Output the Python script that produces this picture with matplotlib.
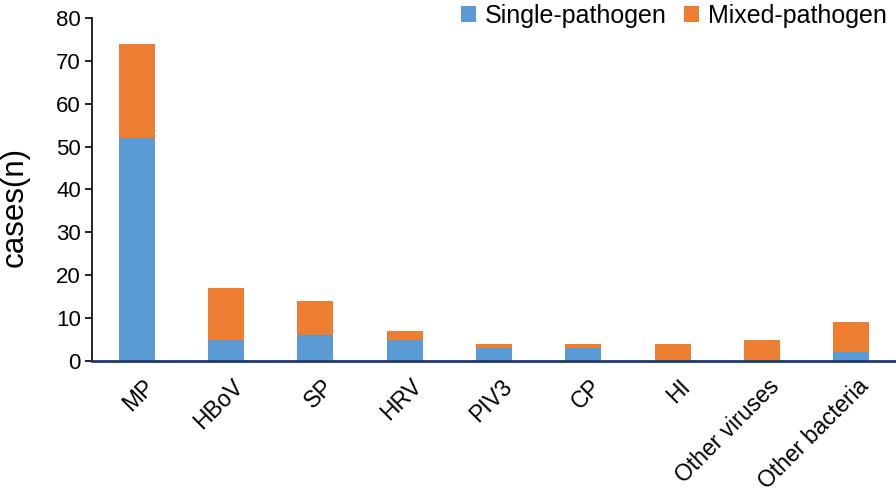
import matplotlib
matplotlib.use("Agg")
import matplotlib.pyplot as plt
import matplotlib.transforms as mtransforms
import numpy as np

plt.rcParams['font.family'] = ['Liberation Sans', 'DejaVu Sans']

# pathogens and counts
pathogens = ['MP', 'HBoV', 'SP', 'HRV', 'PIV3', 'CP', 'HI', 'Other viruses', 'Other bacteria']
single = [52, 5, 6, 5, 3, 3, 0.3, 0.3, 2]
mixed = [22, 12, 8, 2, 1, 1, 3.7, 4.7, 7]

fig = plt.figure(figsize=(8.96, 4.99), dpi=100)
ax = fig.add_axes([0.1027, 0.2766, 0.8973, 0.6874])

x = np.arange(len(pathogens))
ax.bar(x, single, width=0.4, color='#5B9BD5', label='Single-pathogen', zorder=2)
ax.bar(x, mixed, width=0.4, bottom=single, color='#ED7D31', label='Mixed-pathogen', zorder=2)

ax.set_xlim(-0.5, len(pathogens) - 0.5)
ax.set_ylim(0, 80)
ax.set_yticks(range(0, 81, 10))
ax.set_xticks(x)
ax.set_xticklabels(pathogens, rotation=45, ha='right', rotation_mode='anchor')
ax.tick_params(axis='y', labelsize=16, length=5, width=1.2, direction='out', pad=3)
ax.tick_params(axis='x', labelsize=16.5, length=0, pad=10)
# nudge rotated labels a bit to the right
shift = mtransforms.ScaledTranslation(6 / 100, 0, fig.dpi_scale_trans)
for lbl in ax.get_xticklabels():
    lbl.set_transform(lbl.get_transform() + shift)
ax.set_ylabel('cases(n)', fontsize=22.5)
ax.yaxis.set_label_coords(-0.078, 0.45)

ax.spines['top'].set_visible(False)
ax.spines['right'].set_visible(False)
ax.spines['left'].set_linewidth(1.2)
ax.spines['bottom'].set_color('#1F3A6E')
ax.spines['bottom'].set_linewidth(2)

ax.legend(loc='upper right', bbox_to_anchor=(1.001, 1.07), ncol=2, frameon=False,
          fontsize=18, handlelength=0.6, handleheight=0.6, handletextpad=0.35,
          columnspacing=0.7, borderaxespad=0)

fig.savefig('out.png', dpi=100)
